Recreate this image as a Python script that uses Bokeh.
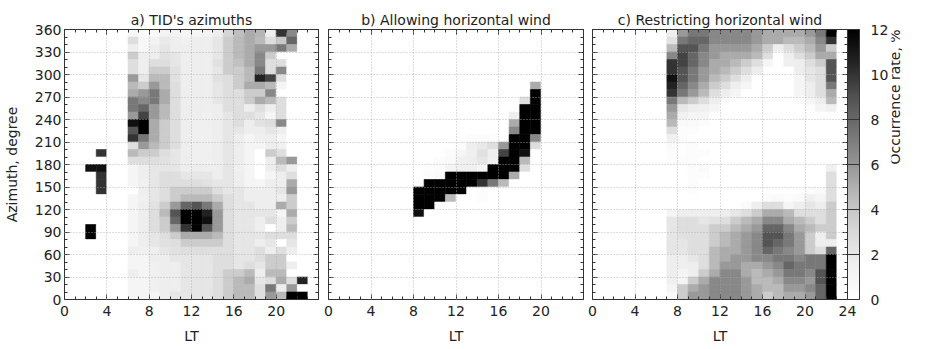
import math
import numpy as np
from bokeh.plotting import figure
from bokeh.models import (LinearColorMapper, ColorBar, FixedTicker, LinearAxis,
                          ColumnDataSource, Range1d)
from bokeh.layouts import row
from bokeh.embed import file_html
from bokeh.resources import INLINE
from bokeh.palettes import Greys9

# ---------------- data ----------------
LT_HOURS = list(range(24))                 # column = LT bin start (h)
AZ_BINS = list(range(350, -10, -10))       # row = azimuth bin start (deg), listed top -> bottom

PANEL_A = [
    [0,0,0,0,0,0, 0.8,0.5,0.5,1.2,1.2,1.0, 1.0,1.2,1.6,3.2,4.4,5.2, 4.8,1.6,10.0,6.6, 0,0],
    [0,0,0,0,0,0, 2.7,0.8,1.2,2.0,1.6,1.4, 1.6,1.6,2.2,3.7,4.6,5.2, 4.6,2.7,3.9,8.1, 0,0],
    [0,0,0,0,0,0, 1.6,0.8,1.6,2.2,1.6,1.6, 1.6,1.6,2.2,3.7,4.6,5.2, 5.9,5.9,7.3,5.2, 0,0],
    [0,0,0,0,0,0, 3.7,1.6,1.6,2.5,2.2,1.6, 1.6,1.6,2.2,3.7,4.6,5.2, 6.6,3.7,0,0, 0,0],
    [0,0,0,0,0,0, 2.7,1.6,2.7,2.7,2.2,1.6, 1.6,1.6,2.5,3.7,4.3,5.2, 6.6,2.7,2.7,0, 0,0],
    [0,0,0,0,0,0, 2.7,1.6,3.7,3.7,2.5,1.6, 1.6,1.6,2.2,3.7,3.7,4.6, 7.3,2.7,6.6,0, 0,0],
    [0,0,0,0,0,0, 5.9,2.2,4.6,4.6,2.5,1.6, 1.6,1.6,2.5,2.7,3.7,4.6, 10.6,9.5,2.7,0, 0,0],
    [0,0,0,0,0,0, 4.6,3.7,5.9,4.6,2.7,1.6, 1.6,1.6,2.2,2.7,3.7,5.2, 5.2,4.6,1.0,0, 0,0],
    [0,0,0,0,0,0, 5.2,5.9,7.3,5.2,2.7,1.6, 1.6,1.6,2.2,2.7,2.7,3.7, 3.7,6.6,0,0, 0,0],
    [0,0,0,0,0,0, 7.3,6.6,7.3,5.2,2.7,1.6, 1.6,1.6,2.2,2.7,2.7,3.7, 5.2,4.6,2.7,0, 0,0],
    [0,0,0,0,0,0, 7.3,8.1,5.9,4.6,2.7,1.6, 1.6,1.6,1.6,2.7,2.7,1.6, 2.7,1.6,2.7,0, 0,0],
    [0,0,0,0,0,0, 5.9,9.5,5.9,4.6,2.7,1.6, 1.6,1.5,1.6,2.2,2.7,2.7, 2.2,1.0,2.7,0, 0,0],
    [0,0,0,0,0,0, 11.3,12,5.2,3.7,2.7,1.6, 1.5,1.5,1.6,2.2,2.7,1.6, 2.5,2.7,6.6,0, 0,0],
    [0,0,0,0,0,0, 8.9,12,5.2,3.7,2.7,1.6, 1.5,1.5,1.6,2.2,2.2,1.6, 1.6,2.2,1.6,0, 0,0],
    [0,0,0,0,0,0, 10,7.3,5.2,3.7,2.7,1.6, 1.5,1.5,1.6,2.2,1.6,1.0, 1.5,1.6,1.0,0, 0,0],
    [0,0,0,0,0,0, 2.7,5.9,4.6,3.7,2.7,1.6, 1.5,1.5,1.6,2.2,1.6,1.0, 1.0,1.6,1.5,0, 0,0],
    [0,0,0,10,0,0, 4.6,3.7,3.7,2.7,2.2,1.6, 1.5,1.5,1.6,2.2,1.6,1.0, 0,3.7,2.7,0, 0,0],
    [0,0,0,0,0,0, 2.7,2.7,2.7,2.5,2.2,1.6, 1.5,1.5,1.6,2.2,1.6,1.0, 0,1.6,4.6,5.9, 0,0],
    [0,0,11.3,11.3,0,0, 1.0,1.6,2.2,2.2,2.2,1.6, 1.6,1.6,1.6,2.2,1.5,1.0, 0,1.6,2.7,1.6, 0,0],
    [0,0,0,10,0,0, 1.0,1.6,2.2,2.7,2.7,2.2, 2.2,2.2,1.6,2.2,1.6,1.0, 0,1.0,1.6,2.7, 0,0],
    [0,0,0,10,0,0, 1.0,1.5,2.2,2.7,2.7,2.7, 2.7,2.5,2.2,2.2,1.6,1.0, 1.0,1.6,1.6,5.2, 0,0],
    [0,0,0,10,0,0, 0,1.6,2.2,2.7,3.7,3.7, 3.7,3.7,2.7,2.2,2.2,1.6, 1.6,1.6,2.2,5.9, 0,0],
    [0,0,0,0,0,0, 1.0,1.5,2.2,2.7,3.7,4.6, 4.6,4.6,3.7,2.7,2.2,1.6, 1.6,1.6,1.6,3.7, 0,0],
    [0,0,0,0,0,0, 1.0,1.6,2.5,3.7,5.9,8.1, 8.9,7.3,5.2,2.7,2.2,2.2, 1.6,1.6,5.2,3.7, 0,0],
    [0,0,0,0,0,0, 1.0,1.6,2.7,4.6,8.9,12, 12,10.6,5.9,2.7,2.2,2.2, 2.2,2.2,1.0,5.2, 0,0],
    [0,0,0,0,0,0, 1.0,1.6,2.7,3.7,8.1,12, 12,11.3,5.9,2.7,2.2,2.2, 1.6,2.7,1.6,3.7, 0,0],
    [0,0,12,0,0,0, 1.0,1.6,2.7,3.7,5.9,10, 12,8.9,5.9,2.7,2.2,2.2, 1.6,0,1.6,4.6, 0,0],
    [0,0,12,0,0,0, 1.0,1.6,2.2,2.7,3.7,5.2, 5.2,5.2,4.6,2.7,2.2,2.2, 2.2,2.7,2.7,2.7, 0,0],
    [0,0,0,0,0,0, 1.0,1.6,2.2,2.5,2.7,3.7, 3.7,3.7,3.7,2.7,2.2,2.2, 1.6,2.2,0,2.2, 0,0],
    [0,0,0,0,0,0, 1.6,1.5,1.6,2.2,2.5,2.7, 2.7,2.7,2.7,2.7,2.2,2.2, 2.7,1.6,2.7,1.6, 0,0],
    [0,0,0,0,0,0, 1.0,1.0,1.6,1.6,2.2,2.2, 2.2,2.2,2.7,2.7,2.2,2.2, 2.7,3.7,3.7,0, 0,0],
    [0,0,0,0,0,0, 1.0,1.0,1.5,1.6,1.6,2.2, 2.2,2.2,2.7,2.7,2.2,2.7, 2.2,3.7,3.7,1.6, 0,0],
    [0,0,0,0,0,0, 1.6,1.0,1.5,1.6,1.6,2.2, 2.2,2.2,2.7,3.7,3.7,4.6, 1.6,4.6,4.6,0, 0,0],
    [0,0,0,0,0,0, 1.0,1.0,1.5,1.6,1.6,2.2, 2.2,2.2,2.7,3.7,4.6,5.2, 2.2,2.7,5.2,2.7, 10.6,0],
    [0,0,0,0,0,0, 1.0,1.0,1.5,1.6,1.6,2.2, 2.2,2.2,2.7,3.7,4.6,4.6, 2.7,7.3,1.6,5.9, 0,0],
    [0,0,0,0,0,0, 1.0,1.0,1.0,1.6,2.2,2.2, 2.2,2.2,2.7,3.7,4.6,4.6, 2.7,5.9,4.6,12, 12,0],
]

PANEL_B = [
    [0,0,0,0,0,0, 0,0,0,0,0,0, 0,0,0,0,0,0, 0,0,0,0, 0,0],
    [0,0,0,0,0,0, 0,0,0,0,0,0, 0,0,0,0,0,0, 0,0,0,0, 0,0],
    [0,0,0,0,0,0, 0,0,0,0,0,0, 0,0,0,0,0,0, 0,0,0,0, 0,0],
    [0,0,0,0,0,0, 0,0,0,0,0,0, 0,0,0,0,0,0, 0,0,0,0, 0,0],
    [0,0,0,0,0,0, 0,0,0,0,0,0, 0,0,0,0,0,0, 0,0,0,0, 0,0],
    [0,0,0,0,0,0, 0,0,0,0,0,0, 0,0,0,0,0,0, 0,0,0,0, 0,0],
    [0,0,0,0,0,0, 0,0,0,0,0,0, 0,0,0,0,0,0, 0,0,0,0, 0,0],
    [0,0,0,0,0,0, 0,0,0,0,0,0, 0,0,0,0,0,0, 0,5.2,0,0, 0,0],
    [0,0,0,0,0,0, 0,0,0,0,0,0, 0,0,0,0,0,0, 0,12,0,0, 0,0],
    [0,0,0,0,0,0, 0,0,0,0,0,0, 0,0,0,0,0,0, 2.7,12,0,0, 0,0],
    [0,0,0,0,0,0, 0,0,0,0,0,0, 0,0,0,0,0,0, 12,12,0,0, 0,0],
    [0,0,0,0,0,0, 0,0,0,0,0,0, 0,0,0,0,0,1.6, 12,12,0,0, 0,0],
    [0,0,0,0,0,0, 0,0,0,0,0,0, 0,0,0,0,0,5.2, 12,12,0,0, 0,0],
    [0,0,0,0,0,0, 0,0,0,0,0,0, 0,0,0,0,0,6.6, 12,12,0,0, 0,0],
    [0,0,0,0,0,0, 0,0,0,0,0,0, 0,0.3,0.4,0.3,0,12, 12,6.6,0,0, 0,0],
    [0,0,0,0,0,0, 0,0,0,0,0,0, 0.4,1.6,2.0,2.7,5.9,12, 12,2.7,0,0, 0,0],
    [0,0,0,0,0,0, 0,0,0,0,0,0.3, 1.0,1.5,2.5,1.6,9.5,12, 11.3,0,0,0, 0,0],
    [0,0,0,0,0,0, 0,0,0,0,0.3,0.5, 1.5,1.6,2.2,1.5,12,12, 4.6,0,0,0, 0,0],
    [0,0,0,0,0,0, 0,0,0,0.2,0.3,1.0, 1.5,1.5,1.0,12,12,12, 2.7,0,0,0, 0,0],
    [0,0,0,0,0,0, 0,0,0,0.3,0.5,12, 12,12,12,12,12,5.2, 0,0,0,0, 0,0],
    [0,0,0,0,0,0, 0,0,0.3,12,12,12, 12,12,10,7.3,4.6,0, 0,0,0,0, 0,0],
    [0,0,0,0,0,0, 0,0,12,12,12,12, 12,0,0.3,0,0,0, 0,0,0,0, 0,0],
    [0,0,0,0,0,0, 0,0,12,12,12,4.6, 0,0,0.3,0,0,0, 0,0,0,0, 0,0],
    [0,0,0,0,0,0, 0,0,12,12,0.4,0, 0,0,0,0,0,0, 0,0,0,0, 0,0],
    [0,0,0,0,0,0, 0,0,11.3,0,0,0, 0,0,0,0,0,0, 0,0,0,0, 0,0],
    [0,0,0,0,0,0, 0,0,0,0,0,0, 0,0,0,0,0,0, 0,0,0,0, 0,0],
    [0,0,0,0,0,0, 0,0,0,0,0,0, 0,0,0,0,0,0, 0,0,0,0, 0,0],
    [0,0,0,0,0,0, 0,0,0,0,0,0, 0,0,0,0,0,0, 0,0,0,0, 0,0],
    [0,0,0,0,0,0, 0,0,0,0,0,0, 0,0,0,0,0,0, 0,0,0,0, 0,0],
    [0,0,0,0,0,0, 0,0,0,0,0,0, 0,0,0,0,0,0, 0,0,0,0, 0,0],
    [0,0,0,0,0,0, 0,0,0,0,0,0, 0,0,0,0,0,0, 0,0,0,0, 0,0],
    [0,0,0,0,0,0, 0,0,0,0,0,0, 0,0,0,0,0,0, 0,0,0,0, 0,0],
    [0,0,0,0,0,0, 0,0,0,0,0,0, 0,0,0,0,0,0, 0,0,0,0, 0,0],
    [0,0,0,0,0,0, 0,0,0,0,0,0, 0,0,0,0,0,0, 0,0,0,0, 0,0],
    [0,0,0,0,0,0, 0,0,0,0,0,0, 0,0,0,0,0,0, 0,0,0,0, 0,0],
    [0,0,0,0,0,0, 0,0,0,0,0,0, 0,0,0,0,0,0, 0,0,0,0, 0,0],
]

PANEL_C = [
    [0,0,0,0,0,0, 0,1.6,5.9,7.3,7.3,6.6, 6.6,6.6,6.6,5.9,5.2,5.2, 5.2,5.2,5.9,7.3, 12,0],
    [0,0,0,0,0,0, 0,2.5,7.3,8.1,8.1,6.6, 6.6,6.6,6.6,5.9,5.2,5.2, 4.6,4.6,5.2,6.6, 10,0],
    [0,0,0,0,0,0, 0,4.6,8.9,8.9,7.3,5.9, 5.9,5.9,5.9,5.2,3.7,1.6, 2.7,3.7,4.6,5.9, 3.7,0],
    [0,0,0,0,0,0, 0,6.6,9.5,8.1,6.6,5.9, 5.2,5.2,5.2,4.6,2.7,0, 1.6,2.7,3.7,5.2, 5.2,0],
    [0,0,0,0,0,0, 0,10,9.5,8.1,6.6,5.2, 5.2,4.6,3.7,2.7,1.0,0, 1.5,1.6,2.7,3.7, 8.9,0],
    [0,0,0,0,0,0, 0,10,8.9,7.3,5.9,5.2, 4.6,3.7,2.7,1.6,0,0, 0,1.6,2.2,2.7, 8.9,0],
    [0,0,0,0,0,0, 0,11.3,8.9,7.3,5.9,4.6, 3.7,2.7,1.6,0,0,0, 0,1.0,2.2,2.7, 8.9,0],
    [0,0,0,0,0,0, 0,10.6,8.1,6.6,5.2,3.7, 2.7,1.6,1.0,0,0,0, 0,1.0,1.6,2.7, 7.3,0],
    [0,0,0,0,0,0, 0,10,7.3,5.9,4.6,2.7, 1.6,1.0,0,0,0,0, 0,1.0,1.6,2.7, 5.2,0],
    [0,0,0,0,0,0, 0,7.3,4.6,3.7,2.7,1.6, 0.5,0,0,0,0,0, 0,0.5,1.0,1.6, 4.6,0],
    [0,0,0,0,0,0, 0,5.9,2.2,1.6,1.5,1.0, 0,0,0,0,0,0, 0,0,0.3,1.0, 1.5,0],
    [0,0,0,0,0,0, 0,5.2,1.5,1.0,1.0,0, 0,0,0,0,0,0, 0,0,0,0, 0,0],
    [0,0,0,0,0,0, 0,4.6,0.5,0.5,0.3,0, 0,0,0,0,0,0, 0,0,0,0, 0,0],
    [0,0,0,0,0,0, 0,2.7,0.3,0.3,0,0, 0,0,0,0,0,0, 0,0,0,0, 0,0],
    [0,0,0,0,0,0, 0,1.5,0.3,0,0,0, 0,0,0,0,0,0, 0,0,0,0, 0,0],
    [0,0,0,0,0,0, 0,0.5,0.2,0.3,0,0, 0,0,0,0,0,0, 0,0,0,0, 0,0],
    [0,0,0,0,0,0, 0,0.3,0.2,0.3,0.3,0, 0,0,0,0,0,0, 0,0,0,0, 0,0],
    [0,0,0,0,0,0, 0,0.3,0.3,0.3,0,0, 0,0,0,0,0,0, 0,0,0,0, 0,0],
    [0,0,0,0,0,0, 0,0,0,0.3,0.5,0, 0,0,0,0,0,0, 0,0,0,0, 1.5,0],
    [0,0,0,0,0,0, 0,0,0,0.3,0.3,0, 0,0,0,0,0,0, 0,0,0,0, 2.7,0],
    [0,0,0,0,0,0, 0,0,0,0.3,0,0, 0,0,0,0,0,0, 0,0,0,0, 2.7,0],
    [0,0,0,0,0,0, 0,0,0,0.3,0,0, 0,0,0,0,0,0, 0,0,0.3,0.5, 2.7,0],
    [0,0,0,0,0,0, 0,0,0,0,0,0, 0,0,0,0,0.3,0.5, 0.3,0.5,1.5,1.0, 2.7,0],
    [0,0,0,0,0,0, 0,0,0,0,0,0, 0,0,0.5,1.6,2.7,2.7, 1.0,1.6,2.2,1.6, 3.7,0],
    [0,0,0,0,0,0, 0,1.0,1.6,1.6,1.6,1.6, 1.6,2.2,2.7,3.7,5.2,5.2, 4.6,2.7,2.7,2.7, 3.7,0],
    [0,0,0,0,0,0, 0,2.2,2.7,2.7,2.2,2.5, 2.7,3.7,4.6,5.2,6.6,6.6, 5.2,4.6,3.7,2.7, 3.7,0],
    [0,0,0,0,0,0, 0,2.2,2.7,2.7,2.7,3.7, 3.7,4.6,5.2,5.9,8.1,8.1, 6.6,5.2,4.6,3.7, 3.7,0],
    [0,0,0,0,0,0, 0,2.2,2.5,2.7,2.7,3.7, 4.6,5.2,5.9,6.6,8.9,8.9, 7.3,5.9,3.7,1.6, 3.7,0],
    [0,0,0,0,0,0, 0,2.2,2.2,2.7,2.7,3.7, 4.6,5.2,5.9,6.6,8.9,8.1, 7.3,5.9,3.7,1.6, 1.6,0],
    [0,0,0,0,0,0, 0,2.2,2.2,2.7,2.7,4.6, 5.2,5.2,5.9,6.6,8.1,7.3, 6.6,5.9,3.7,2.7, 8.1,0],
    [0,0,0,0,0,0, 0,1.6,1.6,2.2,2.7,4.6, 5.2,5.9,5.9,6.6,6.6,7.3, 7.3,6.6,7.3,7.3, 12,0],
    [0,0,0,0,0,0, 0,1.6,1.6,1.6,2.7,4.6, 5.9,5.9,5.2,5.2,5.9,6.6, 8.1,7.3,7.3,7.3, 12,0],
    [0,0,0,0,0,0, 0,1.6,1.0,1.6,3.7,5.2, 6.6,6.6,5.2,4.6,5.2,5.9, 7.3,7.3,6.6,8.9, 12,0],
    [0,0,0,0,0,0, 0,1.5,1.0,3.7,5.2,6.6, 6.6,6.6,5.9,4.6,4.6,5.2, 6.6,6.6,5.9,8.9, 12,0],
    [0,0,0,0,0,0, 0,1.0,3.7,5.2,5.9,6.6, 6.6,6.6,5.9,5.2,4.6,4.6, 5.9,5.9,6.6,8.1, 12,0],
    [0,0,0,0,0,0, 0,0.5,3.7,5.9,5.9,6.6, 6.6,6.6,5.9,5.2,3.7,4.6, 5.2,5.2,5.9,8.1, 12,0],
]

TITLES = ["a) TID's azimuths", "b) Allowing horizontal wind", "c) Restricting horizontal wind"]
X_TICKS_AB = [0, 4, 8, 12, 16, 20]
X_TICKS_C = [0, 4, 8, 12, 16, 20, 24]
X_GRID = [4, 8, 12, 16, 20]
Y_TICKS = [0, 30, 60, 90, 120, 150, 180, 210, 240, 270, 300, 330, 360]
Y_GRID = [30, 60, 90, 120, 150, 180, 210, 240, 270, 300, 330]
CB_TICKS = [0, 2, 4, 6, 8, 10, 12]
X_MINOR = list(range(0, 25))
Y_MINOR = list(range(0, 361, 10))
CB_LABEL = "Occurrence rate, %"

FONT = "DejaVu Sans"
FS = "14px"
AXC = "#333333"
TXT = "#222222"

# matplotlib-like 'Greys' colormap (white -> black)
_stops = [int(c[1:3], 16) for c in Greys9[::-1]]
_g = np.interp(np.linspace(0, 8, 256), np.arange(9), _stops)
PALETTE = ["#%02x%02x%02x" % (int(round(v)), int(round(v)), int(round(v))) for v in _g]
mapper = LinearColorMapper(palette=PALETTE, low=0, high=12)

TOP, BOTTOM, FH = 29, 42, 270


def style_axis(ax, ticks, minor, labels=True):
    ax.ticker = FixedTicker(ticks=ticks, minor_ticks=minor)
    ax.major_tick_in = 5
    ax.major_tick_out = 0
    ax.minor_tick_in = 3
    ax.minor_tick_out = 0
    ax.axis_line_color = AXC
    ax.major_tick_line_color = AXC
    ax.minor_tick_line_color = AXC
    ax.major_label_text_font = FONT
    ax.axis_label_text_font = FONT
    ax.axis_label_text_font_size = FS
    ax.axis_label_text_font_style = "normal"
    ax.axis_label_text_color = TXT
    if labels:
        ax.major_label_text_color = TXT
        ax.major_label_text_font_size = FS
        ax.major_label_standoff = 4
    else:
        ax.major_label_text_color = None
        ax.major_label_text_font_size = "1px"
        ax.major_label_standoff = 0


def make_panel(grid, title, xticks, show_ylabels, fw, bl, br):
    p = figure(frame_width=fw, frame_height=FH,
               x_range=Range1d(0, 24), y_range=Range1d(0, 360),
               output_backend="svg", toolbar_location=None, title=title,
               min_border_left=bl, min_border_right=br,
               min_border_top=TOP, min_border_bottom=BOTTOM)
    p.background_fill_color = "white"
    p.border_fill_color = "white"
    p.outline_line_color = AXC
    xs, ys, vs = [], [], []
    for r, az in enumerate(AZ_BINS):
        for c, h in enumerate(LT_HOURS):
            xs.append(h + 0.5)
            ys.append(az + 5)
            vs.append(grid[r][c])
    src = ColumnDataSource(dict(x=xs, y=ys, v=vs))
    cmap = {"field": "v", "transform": mapper}
    p.rect(x="x", y="y", width=1, height=10, source=src,
           fill_color=cmap, line_color=cmap, line_width=0.6)

    p.title.align = "center"
    p.title.text_font = FONT
    p.title.text_font_size = FS
    p.title.text_font_style = "normal"
    p.title.text_color = TXT
    p.title.standoff = 4

    style_axis(p.xaxis[0], xticks, X_MINOR, True)
    p.xaxis[0].axis_label = "LT"
    p.xaxis[0].major_label_standoff = 6
    p.xaxis[0].axis_label_standoff = 9
    style_axis(p.yaxis[0], Y_TICKS, Y_MINOR, show_ylabels)
    if show_ylabels:
        p.yaxis[0].axis_label = "Azimuth, degree"
        p.yaxis[0].major_label_standoff = 3
        p.yaxis[0].axis_label_standoff = 12

    top = LinearAxis()
    style_axis(top, xticks, X_MINOR, False)
    p.add_layout(top, "above")
    right = LinearAxis()
    style_axis(right, Y_TICKS, Y_MINOR, False)
    p.add_layout(right, "right")

    p.xgrid.ticker = FixedTicker(ticks=X_GRID)
    p.ygrid.ticker = FixedTicker(ticks=Y_GRID)
    for g in (p.xgrid[0], p.ygrid[0]):
        g.grid_line_color = "#aaaaaa"
        g.grid_line_alpha = 0.8
        g.grid_line_dash = "1 2"
        g.grid_line_width = 1
        g.level = "overlay"
    return p


pa = make_panel(PANEL_A, TITLES[0], X_TICKS_AB, True, 254, 63, 4)
pb = make_panel(PANEL_B, TITLES[1], X_TICKS_AB, False, 255, 6, 4)
pc = make_panel(PANEL_C, TITLES[2], X_TICKS_C, False, 255, 5, 0)

cb = ColorBar(color_mapper=mapper, ticker=FixedTicker(ticks=CB_TICKS),
              width=12, height=FH, padding=0, margin=6,
              bar_line_color=AXC, major_tick_line_color=AXC,
              major_tick_in=12, major_tick_out=0,
              label_standoff=11, major_label_text_font=FONT,
              major_label_text_font_size=FS, major_label_text_color=TXT,
              location=(0, 0))
pc.add_layout(cb, "right")

lab = LinearAxis(axis_label=CB_LABEL, ticker=FixedTicker(ticks=[]))
lab.axis_line_color = None
lab.major_tick_line_color = None
lab.minor_tick_line_color = None
lab.major_label_text_color = None
lab.major_label_standoff = 0
lab.axis_label_standoff = 3
lab.axis_label_text_font = FONT
lab.axis_label_text_font_size = FS
lab.axis_label_text_font_style = "normal"
lab.axis_label_text_color = TXT
if "axis_label_orientation" in lab.properties():
    lab.axis_label_orientation = math.pi / 2
pc.add_layout(lab, "right")

layout = row(pa, pb, pc)

html = file_html(layout, INLINE)
with open("out.html", "w") as f:
    f.write(html)
